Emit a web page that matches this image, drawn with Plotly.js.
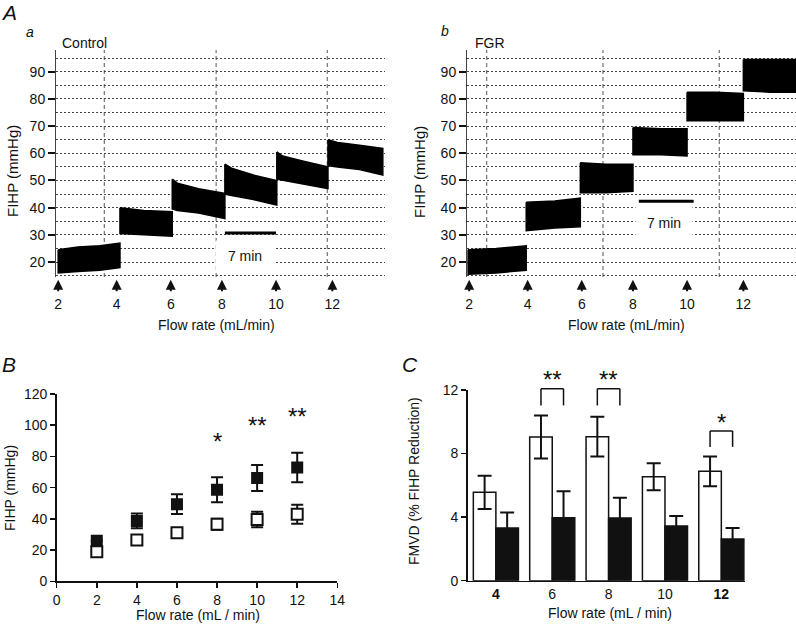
<!DOCTYPE html>
<html><head><meta charset="utf-8">
<script src="https://cdn.plot.ly/plotly-3.0.1.min.js"></script>
<style>html,body{margin:0;padding:0;background:#fff}#chart{width:796px;height:626px}</style>
</head><body><div id="chart"></div>
<script>
const FONT = '"Liberation Sans", Arial, Helvetica, sans-serif';
const INK = '#111';

// ---------- Panel A : FIHP recordings (time in min, FIHP in mmHg) ----------
const flowTickLabels = ['2', '4', '6', '8', '10', '12'];
const arrowTimes = [0.3, 8.3, 15.7, 22.7, 30.1, 37.8];
const ctrlMarkTimes = [6.6, 21.9, 37.1];
const fgrMarkTimes = [2.7, 18.6, 34.5];

const ctrlSegT   = [[0.3, 3, 6, 8.75], [8.75, 12, 15.9], [15.9, 16.6, 19.5, 23.1], [23.1, 24, 27, 30.2], [30.2, 31, 34, 37.2], [37.2, 38.5, 41.5, 44.7]];
const ctrlSegTop = [[24.5, 25.5, 26, 27], [40, 39, 38.5], [50.5, 49, 47, 45.3], [56, 54.5, 52, 50], [60.5, 59, 57, 55], [65, 64, 63, 61.8]];
const ctrlSegBot = [[16, 16.5, 17, 18], [30.5, 30, 29.5], [39.5, 39, 38, 36], [45, 44.5, 43, 41], [50.5, 50, 48.5, 47], [55.5, 55, 54, 52]];

const fgrSegT   = [[0.15, 4, 8.1], [8.1, 12, 15.5], [15.5, 19, 22.7], [22.7, 26.5, 30.1], [30.1, 34, 37.8], [37.8, 41.5, 44.9]];
const fgrSegTop = [[24.5, 25, 26], [42, 42.5, 43.5], [56.5, 56, 56], [69.5, 69, 69], [82.5, 82.5, 82], [94.5, 94.5, 94.5]];
const fgrSegBot = [[15.5, 16, 17], [31.5, 32.5, 33], [45.5, 45.5, 46], [59.5, 59.5, 59], [72, 72, 72], [83, 82.5, 82.5]];

const ctrlBarT = [23.1, 30.1], ctrlBarY = [30.7, 30.7];
const fgrBarT = [23.5, 31.0], fgrBarY = [42.4, 42.4];
const scaleLabel = '7 min';
const ctrlScaleLabelPos = [25.9, 22.2];
const fgrScaleLabelPos = [27.0, 34.3];

// ---------- Panel B : FIHP vs flow ----------
const flowB = [2, 4, 6, 8, 10, 12];
const fgrFihp = [26, 38.7, 49.4, 58.6, 66.2, 72.9];
const fgrFihpErr = [0, 4.7, 6.3, 8, 8.3, 9.5];
const ctrlFihp = [19, 26.5, 31.1, 36.5, 39.6, 42.9];
const ctrlFihpErr = [0, 0, 0, 3.5, 5, 6.1];
const bSigFlow = [8, 10, 12];
const bSigText = ['*', '**', '**'];
const bSigY = [92.6, 103, 108.6];

// ---------- Panel C : FMVD ----------
const catIdx = [0, 1, 2, 3, 4];
const catLabels = ['<b>4</b>', '6', '8', '10', '<b>12</b>'];
const ctrlFmvd = [5.56, 9.04, 9.06, 6.54, 6.88];
const ctrlFmvdErr = [1.05, 1.35, 1.25, 0.85, 0.93];
const fgrFmvd = [3.31, 3.96, 3.94, 3.44, 2.63];
const fgrFmvdErr = [0.98, 1.67, 1.28, 0.63, 0.69];
const cSigIdx = [1, 2, 4];
const cSigText = ['**', '**', '*'];
const cSigTop = [12.08, 12.08, 9.42];
const cSigLeg = [11.03, 11.03, 8.42];
const cRange = [0, 12];

// ---------- helpers ----------
const W = 796, H = 626;
const px = x => x / W, py = y => 1 - y / H;
const cFrac = v => (v - cRange[0]) / (cRange[1] - cRange[0]);

function bandTraces(T, TOP, BOT, xa, ya) {
  return T.map((t, i) => ({
    type: 'scatter', mode: 'lines', xaxis: xa, yaxis: ya,
    x: t.concat(t.slice().reverse(), [t[0]]),
    y: TOP[i].concat(BOT[i].slice().reverse(), [TOP[i][0]]),
    fill: 'toself', fillcolor: '#000', line: {color: '#000', width: 1.5},
    hoverinfo: 'skip', showlegend: false
  }));
}

const traces = [];
traces.push(...bandTraces(ctrlSegT, ctrlSegTop, ctrlSegBot, 'x', 'y'));
traces.push(...bandTraces(fgrSegT, fgrSegTop, fgrSegBot, 'x2', 'y2'));
traces.push({type: 'scatter', mode: 'lines', x: ctrlBarT, y: ctrlBarY, xaxis: 'x', yaxis: 'y', line: {color: '#000', width: 3}, showlegend: false});
traces.push({type: 'scatter', mode: 'lines', x: fgrBarT, y: fgrBarY, xaxis: 'x2', yaxis: 'y2', line: {color: '#000', width: 3}, showlegend: false});

// Panel B
traces.push({type: 'scatter', mode: 'markers', x: flowB, y: fgrFihp, xaxis: 'x3', yaxis: 'y3',
  marker: {symbol: 'square', size: 12, color: INK, line: {width: 0}},
  error_y: {type: 'data', array: fgrFihpErr, color: INK, thickness: 2, width: 6}, showlegend: false});
traces.push({type: 'scatter', mode: 'markers', x: flowB, y: ctrlFihp, xaxis: 'x3', yaxis: 'y3',
  marker: {symbol: 'square', size: 11, color: '#fff', line: {color: INK, width: 2}},
  error_y: {type: 'data', array: ctrlFihpErr, color: INK, thickness: 2, width: 6}, showlegend: false});

// Panel C
traces.push({type: 'bar', x: catIdx, y: ctrlFmvd, xaxis: 'x4', yaxis: 'y4', offsetgroup: 'ctrl',
  marker: {color: '#fff', line: {color: INK, width: 1.5}},
  error_y: {type: 'data', array: ctrlFmvdErr, color: INK, thickness: 2, width: 7}, showlegend: false});
traces.push({type: 'bar', x: catIdx, y: fgrFmvd, xaxis: 'x4', yaxis: 'y4', offsetgroup: 'fgr',
  marker: {color: INK, line: {color: INK, width: 1.5}},
  error_y: {type: 'data', array: fgrFmvdErr, color: INK, thickness: 2, width: 7}, showlegend: false});

// ---------- shapes ----------
const shapes = [];
ctrlMarkTimes.forEach(t => shapes.push({type: 'line', xref: 'x', yref: 'y domain', x0: t, x1: t, y0: 0, y1: 1, layer: 'below', line: {color: '#555', width: 1, dash: '4px,3px'}}));
fgrMarkTimes.forEach(t => shapes.push({type: 'line', xref: 'x2', yref: 'y2 domain', x0: t, x1: t, y0: 0, y1: 1, layer: 'below', line: {color: '#555', width: 1, dash: '4px,3px'}}));
// significance brackets (panel C) – domain refs so they may sit above the axis top
cSigIdx.forEach((c, i) => {
  const a = c - 0.2, b = c + 0.2, top = cFrac(cSigTop[i]), leg = cFrac(cSigLeg[i]);
  const st = {xref: 'x4', yref: 'y4 domain', type: 'line', line: {color: INK, width: 1.5}};
  shapes.push(Object.assign({x0: a, x1: a, y0: leg, y1: top}, st));
  shapes.push(Object.assign({x0: a, x1: b, y0: top, y1: top}, st));
  shapes.push(Object.assign({x0: b, x1: b, y0: leg, y1: top}, st));
});

// ---------- annotations ----------
const ann = [];
function txt(x, y, text, opt) {
  ann.push(Object.assign({xref: 'paper', yref: 'paper', x: px(x), y: py(y), xanchor: 'center', yanchor: 'middle',
    text, showarrow: false, font: {size: 14}}, opt || {}));
}
txt(9, 13, '<i>A</i>', {font: {size: 21}});
txt(30, 32, '<i>a</i>', {font: {size: 14}});
txt(445, 31, '<i>b</i>', {font: {size: 14}});
txt(9, 364, '<i>B</i>', {font: {size: 21}});
txt(410, 364, '<i>C</i>', {font: {size: 21}});
txt(60, 43, 'Control', {xanchor: 'left'});
txt(473, 43, 'FGR', {xanchor: 'left'});
txt(12, 171, 'FIHP (mmHg)', {textangle: -90, font: {size: 15}});
txt(419, 172, 'FIHP (mmHg)', {textangle: -90, font: {size: 15}});
txt(216, 325, 'Flow rate (mL/min)');
txt(626, 325, 'Flow rate (mL/min)');
txt(10, 488, 'FIHP (mmHg)', {textangle: -90});
txt(198, 615, 'Flow rate (mL / min)');
txt(414, 481, 'FMVD (% FIHP Reduction)', {textangle: -90});
txt(610, 613, 'Flow rate (mL / min)');

// arrows under traces
arrowTimes.forEach(t => {
  ['x', 'x2'].forEach((xa, k) => ann.push({xref: xa, yref: (k ? 'y2' : 'y') + ' domain', x: t, y: -0.012, ax: 0, ay: 13, text: '',
    showarrow: true, arrowhead: 2, arrowsize: 1, arrowwidth: 2, arrowcolor: INK}));
});
// scale labels with white background
ann.push({xref: 'x', yref: 'y', x: ctrlScaleLabelPos[0], y: ctrlScaleLabelPos[1], text: scaleLabel, showarrow: false, bgcolor: '#fff', width: 56, height: 28, font: {size: 14}});
ann.push({xref: 'x2', yref: 'y2', x: fgrScaleLabelPos[0], y: fgrScaleLabelPos[1], text: scaleLabel, showarrow: false, bgcolor: '#fff', width: 54, height: 34, font: {size: 14}});
// B asterisks
bSigFlow.forEach((f, i) => ann.push({xref: 'x3', yref: 'y3', x: f, y: bSigY[i], yshift: -5, xanchor: 'center', yanchor: 'middle', text: bSigText[i], showarrow: false, font: {size: 24}}));
// C asterisks
cSigIdx.forEach((c, i) => ann.push({xref: 'x4', yref: 'y4 domain', x: c, y: cFrac(cSigTop[i]), yshift: 9, xanchor: 'center', yanchor: 'middle', text: cSigText[i], showarrow: false, font: {size: 24}}));

// ---------- axes ----------
const gridDash = '2px,2px';
function yAaxis(dom) {
  return {domain: dom, range: [14.5, 98], tickvals: [20, 30, 40, 50, 60, 70, 80, 90], ticks: 'outside', ticklen: 7, tickwidth: 2, tickcolor: INK,
    showline: true, linecolor: '#444', linewidth: 1, zeroline: false,
    showgrid: true, gridcolor: '#444', gridwidth: 1, griddash: gridDash,
    minor: {tickvals: [15, 25, 35, 45, 55, 65, 75, 85, 95], showgrid: true, gridcolor: '#444', gridwidth: 1, griddash: gridDash, ticks: ''},
    tickfont: {size: 14}};
}
function xAaxis(dom) {
  return {domain: dom, range: [0, 45], tickvals: arrowTimes, ticktext: flowTickLabels, ticks: '', showline: false, showgrid: false, zeroline: false,
    ticklabelstandoff: 17, tickfont: {size: 14}};
}
const yDomA = [py(277), py(50)];

const layout = {
  width: W, height: H, margin: {l: 0, r: 0, t: 0, b: 0},
  paper_bgcolor: '#fff', plot_bgcolor: 'rgba(0,0,0,0)',
  font: {family: FONT, color: INK, size: 14},
  showlegend: false, barmode: 'group', bargap: 0.2, bargroupgap: 0,
  xaxis: Object.assign(xAaxis([px(56), px(385)]), {anchor: 'y'}),
  yaxis: Object.assign(yAaxis(yDomA), {anchor: 'x'}),
  xaxis2: Object.assign(xAaxis([px(467), 1]), {anchor: 'y2'}),
  yaxis2: Object.assign(yAaxis(yDomA), {anchor: 'x2'}),
  xaxis3: {domain: [px(56.7), px(337.3)], anchor: 'y3', range: [0, 14], dtick: 2, tick0: 0, ticks: 'outside', ticklen: 5, tickwidth: 1.5, tickcolor: INK,
    showline: true, linecolor: INK, linewidth: 1.5, showgrid: false, zeroline: false, tickfont: {size: 14}},
  yaxis3: {domain: [py(581.3), py(394)], anchor: 'x3', range: [0, 120], dtick: 20, tick0: 0, ticks: 'outside', ticklen: 5, tickwidth: 1.5, tickcolor: INK,
    showline: true, linecolor: INK, linewidth: 1.5, showgrid: false, zeroline: false, tickfont: {size: 14}},
  xaxis4: {domain: [px(467.7), px(745)], anchor: 'y4', range: [-0.5, 4.42], tickvals: catIdx, ticktext: catLabels, ticks: '',
    showline: true, linecolor: INK, linewidth: 1.5, showgrid: false, zeroline: false, tickfont: {size: 14}},
  yaxis4: {domain: [py(580.7), py(390)], anchor: 'x4', range: cRange, tickvals: [0, 4, 8, 12], ticks: 'outside', ticklen: 5, tickwidth: 1.5, tickcolor: INK,
    showline: true, linecolor: INK, linewidth: 1.5, showgrid: false, zeroline: false, tickfont: {size: 14}},
  shapes: shapes,
  annotations: ann
};

Plotly.newPlot('chart', traces, layout, {staticPlot: true, displayModeBar: false});
</script>
</body></html>
